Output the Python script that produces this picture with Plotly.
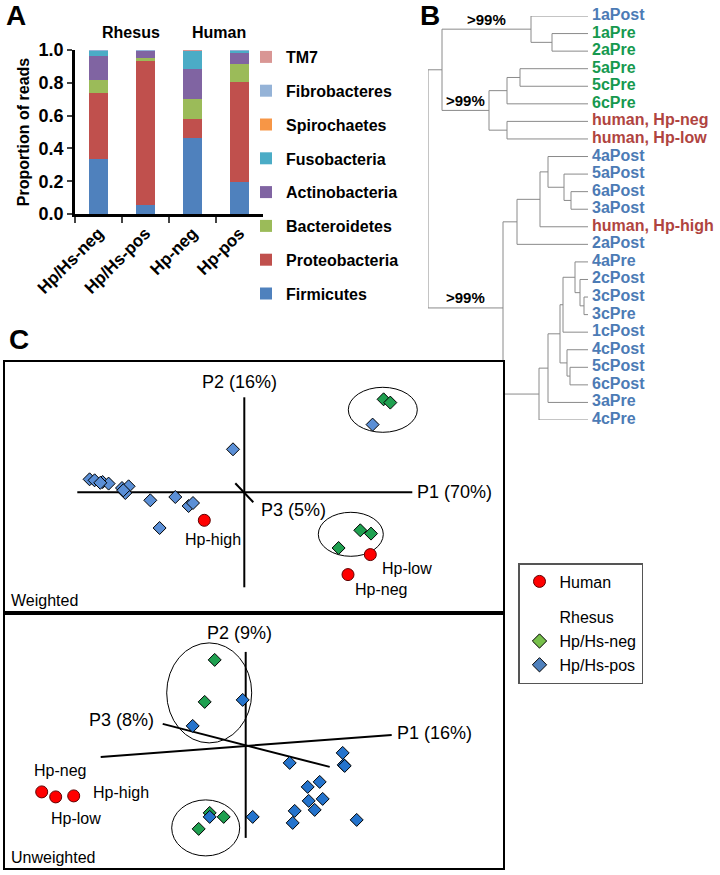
import plotly.graph_objects as go

W, H = 720, 875
FONT = "Liberation Sans"


def fx(p):
    return p / W


def fy(p):
    return 1 - p / H


# ---------------- Panel A data ----------------
groups = ["Hp/Hs-neg", "Hp/Hs-pos", "Hp-neg", "Hp-pos"]
phyla = ["Firmicutes", "Proteobacteria", "Bacteroidetes", "Actinobacteria",
         "Fusobacteria", "Spirochaetes", "Fibrobacteres", "TM7"]
firmicutes = [0.333, 0.055, 0.465, 0.197]
proteobacteria = [0.403, 0.880, 0.114, 0.610]
bacteroidetes = [0.081, 0.018, 0.120, 0.108]
actinobacteria = [0.148, 0.042, 0.187, 0.071]
fusobacteria = [0.033, 0.003, 0.112, 0.012]
spirochaetes = [0.001, 0.001, 0.001, 0.001]
fibrobacteres = [0.001, 0.001, 0.000, 0.001]
tm7 = [0.001, 0.000, 0.001, 0.000]
phylum_values = [firmicutes, proteobacteria, bacteroidetes, actinobacteria,
                 fusobacteria, spirochaetes, fibrobacteres, tm7]
phylum_colors = ["#4F81BD", "#C0504D", "#9BBB59", "#8064A2",
                 "#4BACC6", "#F79646", "#95B3D7", "#D99694"]
y_ticks = [0.0, 0.2, 0.4, 0.6, 0.8, 1.0]
host_labels = ["Rhesus", "Human"]
host_label_pos = [0.69, 2.56]

# ---------------- Panel B data (dendrogram) ----------------
leaf_depth = 160
label_gap = 4
tree = (0, [
    (14, [
        (103, ["1aPost", (124, ["1aPre", "2aPre"])], ">99%"),
        (61, [(79, [(92, ["5aPre", "5cPre"]), "6cPre"]),
              (79, ["human, Hp-neg", "human, Hp-low"])], ">99%"),
    ]),
    (75, [
        (89, [
            (112, [(120, ["4aPost", (136, ["5aPost", (143, ["6aPost", "3aPost"])])]),
                   "human, Hp-high"]),
            "2aPost"]),
        (111, [
            (120, [
                (132, [
                    (135, [(147, ["4aPre", (152, ["2cPost", (156, ["3cPost", "3cPre"])])]),
                           "1cPost"]),
                    (139, ["4cPost", (142, ["5cPost", "6cPost"])]),
                ]),
                "3aPre"]),
            "4cPre"]),
    ], ">99%"),
])
green_leaves = ["1aPre", "2aPre", "5aPre", "5cPre", "6cPre"]

# ---------------- Panel C data ----------------
# Weighted PCoA
w_blue_x = [-1.547, -1.497, -1.417, -1.357, -1.223, -1.157, -1.19, -0.94, -0.69,
            -0.557, -0.513, -0.847, -0.113, 1.283, -1.44, -1.21]
w_blue_y = [0.13, 0.12, 0.103, 0.087, 0.043, 0.06, -0.007, -0.08, -0.047,
            -0.137, -0.107, -0.357, 0.43, 0.677, 0.095, 0.02]
w_green_x = [1.393, 1.46, 1.16, 1.267, 0.943]
w_green_y = [0.93, 0.897, -0.38, -0.413, -0.557]
w_red_x = [-0.40, 1.26, 1.037]
w_red_y = [-0.28, -0.623, -0.823]
w_red_labels = ["Hp-high", "Hp-low", "Hp-neg"]
w_label_x = [-0.31, 1.36, 1.37]
w_label_y = [-0.47, -0.76, -0.97]
w_axis_p1 = ([-1.67, 1.68], [0.0, 0.0])
w_axis_p2 = ([0.0, 0.0], [0.95, -0.95])
w_axis_p3 = ([-0.09, 0.09], [0.09, -0.10])
w_axis_titles = ["P1 (70%)", "P2 (16%)", "P3 (5%)"]
w_ellipses = [(1.04, 1.73, 0.60, 1.05), (0.74, 1.39, -0.64, -0.20)]

# Unweighted PCoA
u_blue_x = [-0.03, -0.53, -0.36, 0.07, 0.44, 0.97, 0.98, 0.99, 0.62, 0.74,
            0.63, 0.77, 0.69, 0.49, 0.47, 1.11]
u_blue_y = [0.46, 0.20, -0.71, -0.71, -0.17, -0.07, -0.19, -0.20, -0.41, -0.36,
            -0.55, -0.53, -0.64, -0.65, -0.77, -0.74]
u_green_x = [-0.31, -0.41, -0.36, -0.22, -0.47]
u_green_y = [0.86, 0.44, -0.67, -0.71, -0.83]
u_red_x = [-2.04, -1.90, -1.72]
u_red_y = [-0.46, -0.51, -0.50]
u_red_labels = ["Hp-neg", "Hp-high", "Hp-low"]
u_label_x = [-1.86, -1.55, -1.70]
u_label_y = [-0.25, -0.47, -0.73]
u_axis_p1 = ([-1.45, 1.46], [-0.11, 0.11])
u_axis_p2 = ([0.0, 0.0], [0.94, -0.92])
u_axis_p3 = ([-0.83, 0.84], [0.22, -0.21])
u_axis_titles = ["P1 (16%)", "P2 (9%)", "P3 (8%)"]
u_ellipses = [(-0.79, 0.06, 0.03, 1.03), (-0.74, -0.06, -1.10, -0.54)]

fig = go.Figure()

# ================= Panel A =================
for i, (name, vals, col) in enumerate(zip(phyla, phylum_values, phylum_colors)):
    fig.add_trace(go.Bar(
        x=groups, y=vals, name=name, marker=dict(color=col, line=dict(width=0)),
        xaxis="x", yaxis="y", legend="legend", legendgroup=name,
        legendrank=100 - i,
    ))

# ================= Panel B =================
leaf_names = []
seg_x, seg_y = [], []
boot = []


def walk(node, parent_depth):
    if isinstance(node, str):
        y = len(leaf_names)
        leaf_names.append(node)
        seg_x.extend([parent_depth, leaf_depth, None])
        seg_y.extend([y, y, None])
        return y
    depth, kids = node[0], node[1]
    ys = [walk(k, depth) for k in kids]
    y = sum(ys) / len(ys)
    seg_x.extend([depth, depth, None])
    seg_y.extend([min(ys), max(ys), None])
    if parent_depth is not None:
        seg_x.extend([parent_depth, depth, None])
        seg_y.extend([y, y, None])
        if len(node) > 2:
            boot.append(((parent_depth + depth) / 2, y, node[2]))
    return y


walk(tree, None)

fig.add_trace(go.Scatter(
    x=seg_x, y=seg_y, mode="lines", line=dict(color="#8a8a8a", width=1),
    xaxis="x2", yaxis="y2", showlegend=False, hoverinfo="skip",
))


def leaf_color(n):
    if n.startswith("human"):
        return "#B0443F"
    if n in green_leaves:
        return "#16994F"
    return "#4C7BB5"


fig.add_trace(go.Scatter(
    x=[leaf_depth + label_gap] * len(leaf_names), y=list(range(len(leaf_names))),
    mode="text", text=leaf_names, textposition="middle right",
    textfont=dict(family=FONT, size=16, weight=700,
                  color=[leaf_color(n) for n in leaf_names]),
    xaxis="x2", yaxis="y2", showlegend=False, cliponaxis=False, hoverinfo="skip",
))

annotations = []
for bx, by, bt in boot:
    annotations.append(dict(x=bx, y=by, xref="x2", yref="y2", text=bt, showarrow=False,
                            xanchor="center", yanchor="middle", yshift=10,
                            font=dict(family=FONT, size=15, weight=700, color="black")))

# ================= Panel C =================
BLUE_W = "#5B8FD6"
BLUE_U = "#2473CC"
GREEN = "#1FA050"
RED = "#FF0000"


def pcoa(xa, ya, blue_x, blue_y, blue_col, green_x, green_y, red_x, red_y,
         p1, p2, p3):
    for lx, ly in (p1, p2, p3):
        fig.add_trace(go.Scatter(x=lx, y=ly, mode="lines", line=dict(color="black", width=2),
                                 xaxis=xa, yaxis=ya, showlegend=False, hoverinfo="skip"))
    fig.add_trace(go.Scatter(x=green_x, y=green_y, mode="markers",
                             marker=dict(symbol="diamond", size=10, color=GREEN,
                                         line=dict(color="black", width=1)),
                             xaxis=xa, yaxis=ya, showlegend=False))
    fig.add_trace(go.Scatter(x=blue_x, y=blue_y, mode="markers",
                             marker=dict(symbol="diamond", size=10, color=blue_col,
                                         line=dict(color="black", width=1)),
                             xaxis=xa, yaxis=ya, showlegend=False))
    fig.add_trace(go.Scatter(x=red_x, y=red_y, mode="markers",
                             marker=dict(symbol="circle", size=12, color=RED,
                                         line=dict(color="#600000", width=1)),
                             xaxis=xa, yaxis=ya, showlegend=False))


pcoa("x3", "y3", w_blue_x, w_blue_y, BLUE_W, w_green_x, w_green_y, w_red_x, w_red_y,
     w_axis_p1, w_axis_p2, w_axis_p3)
pcoa("x4", "y4", u_blue_x, u_blue_y, BLUE_U, u_green_x, u_green_y, u_red_x, u_red_y,
     u_axis_p1, u_axis_p2, u_axis_p3)

# legend-only traces for panel C
fig.add_trace(go.Scatter(x=[None], y=[None], mode="markers", name="Human",
                         marker=dict(symbol="circle", size=12, color=RED,
                                     line=dict(color="#600000", width=1)),
                         legend="legend2", legendgroup="human"))
fig.add_trace(go.Scatter(x=[None], y=[None], mode="markers", name="Rhesus",
                         marker=dict(symbol="circle", size=1, color="rgba(0,0,0,0)",
                                     line=dict(width=0)),
                         legend="legend2", legendgroup="rhesus"))
fig.add_trace(go.Scatter(x=[None], y=[None], mode="markers", name="Hp/Hs-neg",
                         marker=dict(symbol="diamond", size=11, color="#77C04B",
                                     line=dict(color="black", width=1)),
                         legend="legend2", legendgroup="rhesus"))
fig.add_trace(go.Scatter(x=[None], y=[None], mode="markers", name="Hp/Hs-pos",
                         marker=dict(symbol="diamond", size=11, color="#4F81BD",
                                     line=dict(color="black", width=1)),
                         legend="legend2", legendgroup="rhesus"))

txt16 = dict(family=FONT, size=16, color="black")
txt18 = dict(family=FONT, size=18, color="black")


def ann(x, y, xref, yref, text, font, xanchor="center", yanchor="middle"):
    annotations.append(dict(x=x, y=y, xref=xref, yref=yref, text=text, showarrow=False,
                            xanchor=xanchor, yanchor=yanchor, font=font))


# weighted annotations
ann(1.71, 0.0, "x3", "y3", w_axis_titles[0], txt18, "left")
ann(-0.05, 1.106, "x3", "y3", w_axis_titles[1], txt18)
ann(0.15, -0.18, "x3", "y3", w_axis_titles[2], txt18, "left")
for lx, ly, lt, anc in zip(w_label_x, w_label_y, w_red_labels, ["center", "left", "center"]):
    ann(lx, ly, "x3", "y3", lt, txt16, anc)
ann(fx(9), fy(600), "paper", "paper", "Weighted", txt16, "left")

# unweighted annotations
ann(1.49, 0.13, "x4", "y4", u_axis_titles[0], txt18, "left")
ann(-0.06, 1.13, "x4", "y4", u_axis_titles[1], txt18)
ann(-1.24, 0.26, "x4", "y4", u_axis_titles[2], txt18)
for lx, ly, lt, anc in zip(u_label_x, u_label_y, u_red_labels, ["center", "left", "center"]):
    ann(lx, ly, "x4", "y4", lt, txt16, anc)
ann(fx(9), fy(857), "paper", "paper", "Unweighted", txt16, "left")

# panel A header labels
hdr = dict(family=FONT, size=16, weight=700, color="black")
for hl, hp in zip(host_labels, host_label_pos):
    ann(hp, fy(33), "x", "paper", hl, hdr)

# panel letters
for letter, lxp, lyp in (("A", 16, 16), ("B", 430, 16), ("C", 19, 339)):
    ann(fx(lxp), fy(lyp), "paper", "paper", letter,
        dict(family=FONT, size=28, weight=700, color="black"))

shapes = []
for xr, yr, ells in (("x3", "y3", w_ellipses), ("x4", "y4", u_ellipses)):
    for x0, x1, y0, y1 in ells:
        shapes.append(dict(type="circle", xref=xr, yref=yr, x0=x0, x1=x1, y0=y0, y1=y1,
                           line=dict(color="black", width=1), layer="below"))

hidden = dict(visible=False, showgrid=False, zeroline=False, fixedrange=True,
              automargin=False)
box_axis = dict(showline=True, mirror=True, linecolor="black", linewidth=2,
                showticklabels=False, ticks="", showgrid=False, zeroline=False,
                automargin=False)

fig.update_layout(
    template="none",
    width=W, height=H, margin=dict(l=0, r=0, t=0, b=0, pad=0, autoexpand=False),
    paper_bgcolor="white", plot_bgcolor="white",
    barmode="stack", bargap=0.58,
    font=dict(family=FONT, color="black"),
    xaxis=dict(domain=[fx(75), fx(263)], anchor="y", showline=True, linecolor="black",
               linewidth=2.5, ticks="outside", tickson="boundaries", ticklen=6, tickwidth=2,
               tickangle=-45, tickfont=dict(family=FONT, size=17, weight=700),
               showgrid=False, range=[-0.5, 3.5], automargin=False),
    yaxis=dict(domain=[fy(214), fy(50)], anchor="x", range=[0, 1], tickvals=y_ticks,
               tickformat=".1f", showline=True, linecolor="black", linewidth=2.5,
               ticks="outside", ticklen=5, tickwidth=2, showgrid=False, zeroline=False,
               tickfont=dict(family=FONT, size=18, weight=700), automargin=False,
               title=dict(text="Proportion of reads", standoff=6,
                          font=dict(family=FONT, size=16, weight=700))),
    xaxis2=dict(domain=[fx(428), fx(428 + leaf_depth + label_gap + 1)],
                range=[0, leaf_depth + label_gap + 1], anchor="y2", **hidden),
    yaxis2=dict(domain=[fy(420), fy(16)], range=[len(leaf_names) - 1, 0], anchor="x2", **hidden),
    xaxis3=dict(domain=[fx(5), fx(503)], range=[-2.393, 2.587], anchor="y3", **box_axis),
    yaxis3=dict(domain=[fy(613), fy(362)], range=[-1.207, 1.303], anchor="x3", **box_axis),
    xaxis4=dict(domain=[fx(5), fx(503)], range=[-2.407, 2.573], anchor="y4", **box_axis),
    yaxis4=dict(domain=[fy(868), fy(613)], range=[-1.221, 1.329], anchor="x4", **box_axis),
    legend=dict(x=fx(246), y=fy(40), xanchor="left", yanchor="top",
                traceorder="grouped", tracegroupgap=10,
                font=dict(family=FONT, size=16, weight=700, color="black"),
                bgcolor="rgba(0,0,0,0)", borderwidth=0),
    legend2=dict(x=fx(518), y=fy(563), xanchor="left", yanchor="top",
                 traceorder="grouped", tracegroupgap=12,
                 entrywidth=88, entrywidthmode="pixels",
                 font=dict(family=FONT, size=16, color="black"),
                 bordercolor="#555555", borderwidth=1.5, bgcolor="white"),
    annotations=annotations, shapes=shapes,
)

fig.write_html("out.html", config={"displayModeBar": False},
               post_script="document.body.style.margin='0';")
